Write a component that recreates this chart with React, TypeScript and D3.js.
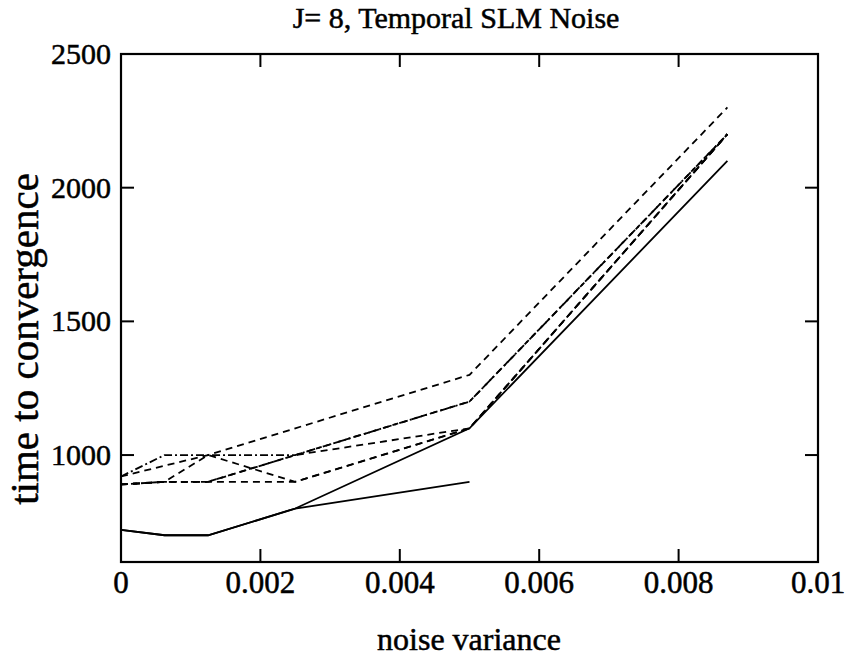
import * as d3 from "d3";

// x positions of the runs (noise variance)
const noiseVariance = [0, 0.000625, 0.00125, 0.0025, 0.005, 0.0087];

// time to convergence for each run (null = no value)
const solidLow = [720, 700, 700, 800, 900, null];
const solidHigh = [720, 700, 700, 800, 1100, 2100];
const dashDotRun = [920, 1000, 1000, 1000, 1200, 2200];
const dashedTop = [920, 960, 1000, 1100, 1300, 2300];
const dashedCross = [890, 900, 1000, 900, 1100, 2200];
const dashedRise = [890, 900, 900, 1000, 1100, 2200];
const dashedFlat = [890, 900, 900, 900, 1100, 2200];
const dashedUpper = [890, 900, 900, 1000, 1200, 2200];

const xTicks = [0, 0.002, 0.004, 0.006, 0.008, 0.01];
const xTickLabels = ["0", "0.002", "0.004", "0.006", "0.008", "0.01"];
const yTicks = [1000, 1500, 2000, 2500];

const series = [
  { values: solidLow, dash: null },
  { values: solidHigh, dash: null },
  { values: dashDotRun, dash: "8,3,2,3" },
  { values: dashedTop, dash: "7,5" },
  { values: dashedCross, dash: "7,5" },
  { values: dashedRise, dash: "7,5" },
  { values: dashedFlat, dash: "7,5" },
  { values: dashedUpper, dash: "6,4" },
];

const W = 848;
const H = 658;
const left = 121;
const right = 818;
const top = 54;
const bottom = 562;
const font = "'Liberation Serif', 'Times New Roman', serif";

// scanned print looks a bit heavy, so text gets a thin outline
const textStyle = {
  fontFamily: font,
  fill: "#000",
  stroke: "#000",
  strokeWidth: 0.5,
};

export default function App() {
  const x = d3.scaleLinear().domain([0, 0.01]).range([left, right]);
  const y = d3.scaleLinear().domain([600, 2500]).range([bottom, top]);

  const line = d3
    .line<number | null>()
    .defined((d) => d != null)
    .x((_, i) => x(noiseVariance[i]))
    .y((d) => y(d as number));

  const tick = 13;

  return (
    <svg
      width={W}
      height={H}
      style={{ position: "absolute", left: 0, top: 0, background: "#fff" }}
    >
      <rect x={0} y={0} width={W} height={H} fill="#fff" />
      <text x={456} y={28} textAnchor="middle" fontSize={30} style={textStyle}>
        J= 8, Temporal SLM Noise
      </text>

      {/* data lines */}
      <g fill="none" stroke="#000" strokeWidth={1.8}>
        {series.map((s, i) => (
          <path
            key={i}
            d={line(s.values) || ""}
            strokeDasharray={s.dash || undefined}
          />
        ))}
      </g>

      {/* frame */}
      <rect
        x={left}
        y={top}
        width={right - left}
        height={bottom - top}
        fill="none"
        stroke="#000"
        strokeWidth={2.2}
      />

      {/* x ticks */}
      {xTicks.map((t, i) => (
        <g key={"x" + i}>
          {i > 0 && i < xTicks.length - 1 && (
            <>
              <line x1={x(t)} x2={x(t)} y1={bottom} y2={bottom - tick} stroke="#000" strokeWidth={2} />
              <line x1={x(t)} x2={x(t)} y1={top} y2={top + tick} stroke="#000" strokeWidth={2} />
            </>
          )}
          <text x={x(t)} y={593} textAnchor="middle" fontSize={31} style={textStyle}>
            {xTickLabels[i]}
          </text>
        </g>
      ))}

      {/* y ticks */}
      {yTicks.map((t, i) => (
        <g key={"y" + i}>
          {t < 2500 && (
            <>
              <line x1={left} x2={left + tick} y1={y(t)} y2={y(t)} stroke="#000" strokeWidth={2} />
              <line x1={right} x2={right - tick} y1={y(t)} y2={y(t)} stroke="#000" strokeWidth={2} />
            </>
          )}
          <text x={111} y={y(t) + 10} textAnchor="end" fontSize={30} style={textStyle}>
            {t}
          </text>
        </g>
      ))}

      <text x={469} y={650} textAnchor="middle" fontSize={32} style={textStyle}>
        noise variance
      </text>
      <text
        transform={`translate(38, 339) rotate(-90)`}
        textAnchor="middle"
        fontSize={41}
        style={textStyle}
      >
        time to convergence
      </text>
    </svg>
  );
}
